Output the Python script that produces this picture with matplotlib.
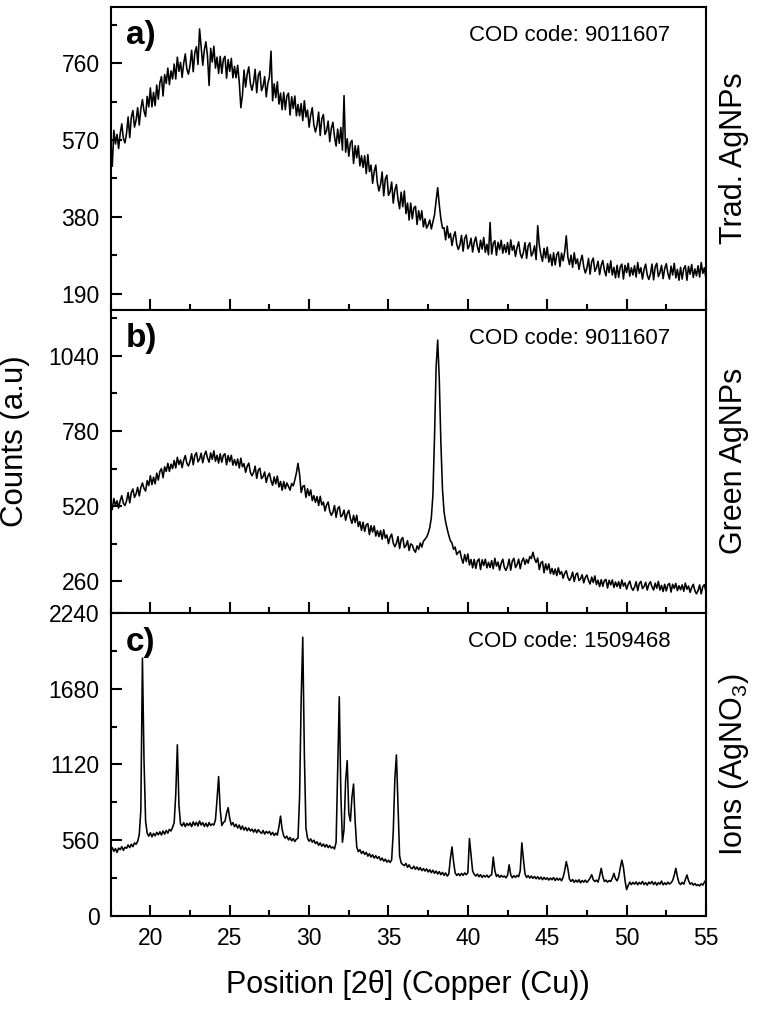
import numpy as np
import matplotlib
matplotlib.use("Agg")
import matplotlib.pyplot as plt
from matplotlib.ticker import MultipleLocator

plt.rcParams['font.family'] = ['Liberation Sans', 'DejaVu Sans']
plt.rcParams['mathtext.default'] = 'regular'

# scan grid (start, step in 2theta), one row of counts per degree
scan_start = 17.5
scan_step = 0.1

# a) Trad. AgNPs
counts_a = [
    574, 505, 594, 560, 584, 549, 586, 610, 574, 563,
    587, 627, 576, 626, 643, 602, 619, 650, 607, 647,
    670, 642, 628, 678, 652, 699, 652, 688, 655, 706,
    671, 712, 727, 679, 732, 710, 748, 707, 741, 721,
    758, 721, 775, 740, 762, 725, 760, 783, 745, 733,
    755, 792, 739, 786, 801, 757, 845, 801, 755, 793,
    813, 777, 705, 797, 763, 802, 748, 775, 735, 777,
    735, 770, 777, 723, 769, 740, 772, 724, 752, 724,
    755, 713, 650, 680, 743, 701, 733, 751, 710, 693,
    712, 745, 687, 730, 740, 692, 703, 727, 677, 710,
    726, 790, 667, 709, 675, 714, 659, 686, 645, 688,
    645, 679, 686, 632, 677, 648, 679, 630, 658, 630,
    660, 618, 667, 627, 644, 602, 632, 650, 607, 590,
    607, 639, 581, 623, 633, 584, 593, 617, 566, 599,
    614, 578, 555, 597, 562, 601, 545, 680, 540, 573,
    530, 563, 569, 512, 556, 526, 556, 506, 531, 502,
    531, 487, 534, 492, 508, 463, 492, 508, 464, 444,
    460, 491, 432, 474, 483, 433, 442, 466, 414, 446,
    460, 423, 400, 441, 405, 444, 388, 414, 372, 414,
    375, 402, 406, 361, 395, 372, 395, 355, 375, 352,
    360, 372, 350, 368, 385, 420, 452, 410, 375, 352,
    353, 323, 357, 328, 339, 309, 331, 343, 312, 299,
    311, 334, 295, 327, 335, 301, 309, 327, 293, 317,
    330, 306, 292, 322, 300, 329, 292, 312, 286, 366,
    288, 314, 321, 285, 317, 299, 322, 290, 311, 292,
    316, 287, 323, 297, 309, 282, 304, 318, 289, 278,
    292, 316, 277, 308, 316, 283, 291, 308, 274, 358,
    310, 286, 270, 302, 278, 305, 268, 287, 259, 291,
    261, 286, 293, 257, 290, 271, 294, 333, 280, 262,
    285, 255, 291, 264, 276, 250, 271, 285, 256, 241,
    253, 277, 238, 269, 278, 245, 254, 270, 237, 260,
    272, 248, 234, 264, 242, 271, 236, 255, 229, 260,
    230, 256, 263, 226, 260, 242, 265, 233, 254, 236,
    259, 231, 267, 240, 254, 226, 250, 263, 236, 225,
    238, 263, 224, 256, 265, 232, 242, 260, 227, 252,
    264, 240, 226, 258, 236, 265, 229, 250, 223, 255,
    226, 252, 259, 223, 257, 238, 262, 230, 251, 234,
    259, 231, 267, 240, 254, 226,
]

# b) Green AgNPs
counts_b = [
    533, 508, 546, 522, 538, 513, 539, 556, 529, 522,
    538, 567, 531, 567, 579, 550, 562, 585, 555, 584,
    600, 581, 572, 608, 591, 625, 594, 620, 597, 634,
    610, 640, 650, 618, 656, 640, 668, 640, 665, 650,
    678, 652, 689, 664, 680, 653, 679, 695, 668, 659,
    675, 701, 663, 695, 705, 673, 683, 703, 670, 696,
    710, 686, 672, 704, 682, 711, 675, 696, 669, 701,
    672, 696, 701, 663, 695, 674, 696, 662, 681, 661,
    683, 652, 686, 656, 667, 637, 658, 669, 637, 625,
    636, 658, 616, 645, 651, 615, 622, 638, 602, 624,
    634, 608, 592, 621, 597, 624, 586, 605, 575, 605,
    580, 600, 588, 575, 598, 590, 610, 635, 668, 630,
    567, 588, 591, 550, 580, 556, 576, 539, 556, 533,
    553, 522, 554, 524, 534, 503, 524, 534, 502, 488,
    499, 522, 481, 511, 518, 483, 489, 506, 471, 494,
    505, 477, 460, 488, 463, 488, 449, 466, 436, 464,
    432, 455, 459, 421, 452, 430, 451, 416, 435, 414,
    435, 405, 438, 409, 420, 390, 412, 423, 392, 379,
    391, 414, 373, 404, 411, 376, 383, 400, 366, 389,
    385, 368, 360, 382, 370, 392, 378, 398, 405, 412,
    425, 445, 480, 560, 760, 1000, 1095, 960, 740, 580,
    500, 465, 440, 418, 400, 392, 370, 378, 352, 360,
    365, 339, 322, 352, 328, 354, 316, 335, 306, 335,
    304, 330, 337, 300, 334, 314, 336, 306, 325, 307,
    331, 303, 339, 312, 326, 298, 322, 336, 307, 297,
    311, 336, 298, 330, 339, 307, 317, 336, 303, 329,
    340, 318, 335, 322, 345, 338, 360, 338, 325, 340,
    300, 323, 328, 289, 320, 299, 320, 286, 304, 283,
    302, 279, 306, 284, 293, 270, 287, 296, 273, 262,
    272, 291, 259, 282, 288, 262, 268, 282, 254, 273,
    281, 262, 250, 274, 255, 278, 248, 263, 241, 265,
    242, 262, 266, 236, 263, 247, 264, 238, 257, 241,
    258, 235, 264, 243, 254, 232, 249, 260, 238, 228,
    239, 258, 227, 252, 259, 234, 241, 256, 229, 249,
    258, 240, 229, 253, 235, 259, 229, 245, 224, 249,
    226, 247, 252, 222, 249, 235, 252, 227, 244, 230,
    247, 225, 253, 232, 243, 221, 238, 249, 227, 216,
    227, 247, 216, 241, 248, 223,
]

# c) Ions (AgNO3)
counts_c = [
    480, 505, 478, 498, 470, 502, 490, 512, 485, 508,
    500, 525, 505, 530, 512, 540, 530, 552, 600, 780,
    1905, 1150, 700, 612, 590, 615, 585, 610, 592, 618,
    600, 622, 598, 628, 605, 632, 612, 640, 628, 655,
    690, 900, 1265, 820, 680, 665, 690, 660, 685, 668,
    688, 660, 695, 670, 692, 665, 702, 672, 690, 662,
    685, 660, 690, 668, 680, 672, 710, 860, 1030, 785,
    668, 690, 700, 760, 800, 720, 672, 690, 660, 678,
    650, 672, 640, 665, 635, 655, 630, 650, 628, 642,
    620, 640, 615, 638, 622, 610, 632, 605, 625, 612,
    625, 600, 618, 595, 612, 598, 660, 738, 640, 592,
    575, 590, 562, 580, 555, 572, 550, 568, 575, 880,
    1600, 2060, 1200, 650, 575, 552, 570, 545, 560, 535,
    548, 522, 540, 515, 532, 510, 528, 505, 520, 502,
    510, 495, 545, 1100, 1620, 900, 545, 640, 1000, 1148,
    760, 700, 880, 975, 700, 510, 475, 490, 462, 478,
    455, 470, 442, 460, 435, 452, 428, 445, 425, 438,
    412, 428, 405, 420, 398, 412, 395, 415, 620, 1010,
    1190, 820, 445, 392, 380, 372, 388, 360, 378, 355,
    350, 368, 345, 362, 340, 358, 335, 350, 332, 348,
    325, 342, 320, 338, 315, 332, 310, 328, 305, 322,
    300, 318, 295, 310, 425, 510, 400, 318, 300, 312,
    298, 315, 300, 318, 305, 320, 572, 450, 332, 308,
    295, 310, 290, 305, 285, 300, 288, 302, 285, 298,
    305, 435, 335, 292, 305, 285, 300, 288, 295, 282,
    300, 378, 305, 282, 298, 285, 300, 290, 335, 540,
    420, 310, 285, 298, 280, 295, 278, 292, 275, 290,
    272, 288, 268, 285, 270, 282, 265, 280, 268, 284,
    262, 280, 265, 278, 260, 285, 335, 402, 350, 272,
    255, 270, 248, 265, 250, 268, 245, 262, 250, 265,
    248, 262, 280, 305, 268, 255, 265, 250, 295, 352,
    290, 255, 265, 250, 262, 255, 280, 315, 275, 260,
    290, 355, 413, 360, 262, 195, 225, 250, 232, 248,
    235, 252, 230, 248, 236, 255, 232, 246, 228, 250,
    238, 255, 232, 250, 228, 246, 235, 258, 230, 245,
    232, 250, 236, 245, 262, 300, 352, 290, 245, 232,
    248, 235, 270, 303, 262, 235, 245, 228, 240, 225,
    232, 222, 238, 228, 250, 266,
]

panel_tags = ['a)', 'b)', 'c)']
cod_codes = ['COD code: 9011607', 'COD code: 9011607', 'COD code: 1509468']
side_labels = ['Trad. AgNPs', 'Green AgNPs', 'Ions (AgNO$_3$)']
y_limits = [(150, 900), (150, 1200), (0, 2240)]
y_major = [190, 260, 560]

fig = plt.figure(figsize=(7.57, 10.09), dpi=100)
left, width, h = 0.1462, 0.7864, 0.3004
bottoms = [0.0922 + 2 * h, 0.0922 + h, 0.0922]

series = [counts_a, counts_b, counts_c]
axes = []
for i in range(3):
    ax = fig.add_axes([left, bottoms[i], width, h])
    yv = series[i]
    x = scan_start + scan_step * np.arange(len(yv))
    ax.plot(x, yv, color='black', lw=1.15)
    ax.set_xlim(17.5, 55)
    ax.set_ylim(*y_limits[i])
    ax.xaxis.set_major_locator(MultipleLocator(5))
    ax.xaxis.set_minor_locator(MultipleLocator(2.5))
    ax.yaxis.set_major_locator(MultipleLocator(y_major[i]))
    ax.yaxis.set_minor_locator(MultipleLocator(y_major[i] / 2))
    ax.tick_params(which='both', direction='in', width=1.5, labelsize=16.5,
                   top=False, right=False, pad=8)
    ax.tick_params(which='major', length=8)
    ax.tick_params(which='minor', length=4)
    for s in ax.spines.values():
        s.set_linewidth(1.5)
    if i < 2:
        ax.tick_params(labelbottom=False)
    ax.text(0.025, 0.955, panel_tags[i], transform=ax.transAxes, fontsize=24,
            fontweight='bold', va='top', ha='left')
    ax.text(0.94, 0.905, cod_codes[i], transform=ax.transAxes, fontsize=16,
            va='center', ha='right')
    ax.text(1.047, 0.5, side_labels[i], transform=ax.transAxes, fontsize=22,
            rotation=90, va='center', ha='center')
    axes.append(ax)

axes[2].set_xlabel('Position [2\u03b8] (Copper (Cu))', fontsize=22, labelpad=14)
fig.text(0.02, 0.563, 'Counts (a.u)', rotation=90, fontsize=22.5,
         va='center', ha='center')

fig.savefig('out.png', dpi=100)
